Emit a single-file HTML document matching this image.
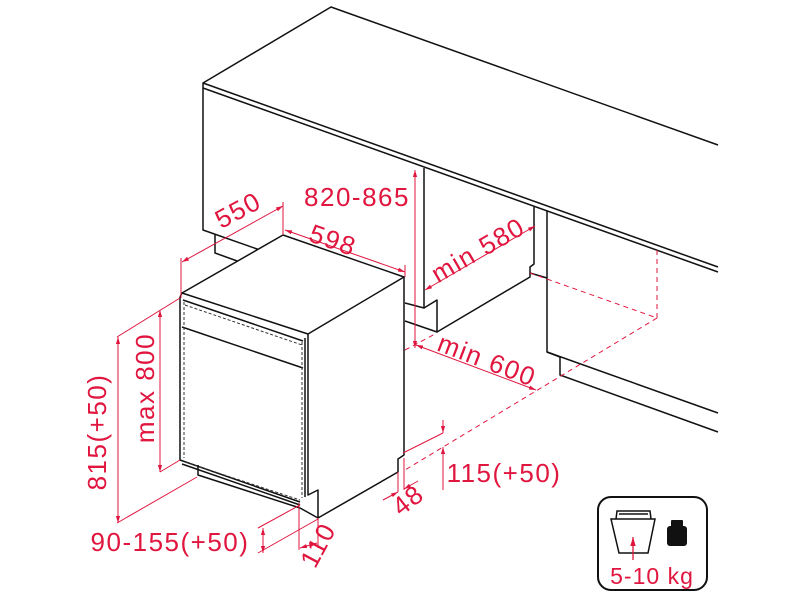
<!DOCTYPE html>
<html><head><meta charset="utf-8"><style>
html,body{margin:0;padding:0;background:#fff;}
svg{display:block}
text{font-family:"Liberation Sans",sans-serif;fill:#e0163f;}
</style></head><body>
<svg width="800" height="600" viewBox="0 0 800 600" xmlns="http://www.w3.org/2000/svg">
<defs>
<marker id="a" viewBox="0 0 10 10" refX="10" refY="5" markerWidth="7" markerHeight="7" orient="auto-start-reverse"><path d="M0,2 L10,5 L0,8 z" fill="#e0163f"/></marker>
</defs>
<g fill="none" stroke="#111" stroke-width="1.5" stroke-linejoin="round">
<polyline points="718,145 331,7 203,83 203,230 260,250"/>
<line x1="203" y1="83" x2="718" y2="267"/>
<line x1="203" y1="88" x2="718" y2="272"/>
<polyline points="215,234 215,253 240,262"/>
<polyline points="424,168 424,308 405,303"/>
<polyline points="424,308 437,300 437,332 405,321"/>
<polyline points="437,332 530,277 530,267 534,264 534,207"/>
<line x1="530" y1="273" x2="547" y2="278"/>
<polyline points="547,211 547,352 718,413"/>
<polyline points="547,352 560,357 560,375 718,432"/>
<polygon points="182,293 283,235 404,277 308,334" fill="#fff"/>
<polyline points="404,277 404,455 398,459 398,472 318,518 318,490 308,495 308,334"/>
<line x1="182" y1="293" x2="180" y2="297"/>
<polyline points="180,297 180,460 300,502"/>
<line x1="183" y1="300" x2="303" y2="341"/>
<line x1="182" y1="327" x2="303" y2="368"/>
<line x1="305" y1="338" x2="305" y2="497"/>
<polyline points="198,465 198,475 300,508 318,518"/>
<line x1="182" y1="464" x2="300" y2="505"/>
</g>
<g fill="none" stroke="#333" stroke-width="1" stroke-dasharray="3,2">
<line x1="184" y1="302" x2="184" y2="458"/>
<line x1="302" y1="342" x2="302" y2="498"/>
<line x1="185" y1="305" x2="302" y2="345"/>
<line x1="185" y1="462" x2="300" y2="500"/>
</g>
<g fill="none" stroke="#e0163f" stroke-width="1">
<g stroke-dasharray="5,4">
<line x1="530" y1="273" x2="657" y2="318"/>
<line x1="657" y1="250" x2="657" y2="318"/>
<line x1="657" y1="318" x2="405" y2="470"/>
<line x1="405" y1="350" x2="437" y2="333"/>
</g>
<line x1="181" y1="258" x2="181" y2="298"/>
<line x1="283" y1="202" x2="283" y2="235"/>
<line x1="182" y1="262" x2="283" y2="206" marker-start="url(#a)" marker-end="url(#a)"/>
<line x1="405" y1="265" x2="405" y2="277"/>
<line x1="285" y1="230" x2="405" y2="272" marker-start="url(#a)" marker-end="url(#a)"/>
<line x1="415" y1="170" x2="415" y2="348" marker-start="url(#a)" marker-end="url(#a)"/>
<line x1="425" y1="290" x2="535" y2="226" marker-start="url(#a)" marker-end="url(#a)"/>
<line x1="416" y1="345" x2="536" y2="390" marker-start="url(#a)" marker-end="url(#a)"/>
<line x1="160" y1="310" x2="160" y2="472" marker-start="url(#a)" marker-end="url(#a)"/>
<line x1="160" y1="472" x2="180" y2="460"/>
<line x1="117" y1="337" x2="180" y2="298"/>
<line x1="117" y1="523" x2="197" y2="477"/>
<line x1="118" y1="337" x2="118" y2="523" marker-start="url(#a)" marker-end="url(#a)"/>
<line x1="258" y1="528" x2="300" y2="505"/>
<line x1="258" y1="553" x2="318" y2="519"/>
<line x1="263" y1="528" x2="263" y2="553" marker-start="url(#a)" marker-end="url(#a)"/>
<line x1="299" y1="503" x2="299" y2="550"/>
<line x1="318" y1="518" x2="318" y2="548"/>
<line x1="300" y1="548" x2="317" y2="543" marker-start="url(#a)" marker-end="url(#a)"/>
<line x1="398" y1="472" x2="398" y2="492"/>
<line x1="404" y1="458" x2="404" y2="490"/>
<line x1="383" y1="500" x2="398" y2="492" marker-end="url(#a)"/>
<line x1="418" y1="481" x2="404" y2="489" marker-end="url(#a)"/>
<line x1="403" y1="453" x2="443" y2="433"/>
<line x1="443" y1="420" x2="443" y2="433" marker-end="url(#a)"/>
<line x1="443" y1="490" x2="443" y2="447" marker-end="url(#a)"/>
</g>
<g font-size="26" letter-spacing="1.5">
<text x="238" y="219" text-anchor="middle" transform="rotate(-28 238 210)">550</text>
<text x="333" y="249" text-anchor="middle" transform="rotate(19 333 240)">598</text>
<text x="357" y="206" text-anchor="middle">820-865</text>
<text x="478" y="259" text-anchor="middle" transform="rotate(-30 478 250)">min 580</text>
<text x="487" y="369" text-anchor="middle" transform="rotate(21 487 360)">min 600</text>
<text x="145" y="397" text-anchor="middle" transform="rotate(-90 145 388)">max 800</text>
<text x="97" y="441" text-anchor="middle" transform="rotate(-90 97 432)">815(+50)</text>
<text x="170" y="551" text-anchor="middle">90-155(+50)</text>
<text x="318" y="554" text-anchor="middle" transform="rotate(-62 318 545)">110</text>
<text x="408" y="509" text-anchor="middle" transform="rotate(-38 408 500)">48</text>
<text x="504" y="482" text-anchor="middle">115(+50)</text>
</g>
<rect x="598" y="497" width="109" height="93" rx="13" fill="none" stroke="#111" stroke-width="2"/>
<g fill="none" stroke="#111" stroke-width="1.5">
<polygon points="611,519 655,519 648,553 619,553"/>
<polyline points="616,519 617,511 650,511 651,519"/>
<line x1="619" y1="514" x2="648" y2="514"/>
</g>
<line x1="633" y1="560" x2="633" y2="537" stroke="#e0163f" stroke-width="1.3" marker-end="url(#a)"/>
<rect x="671" y="520" width="12" height="7" rx="1" fill="#111"/>
<rect x="667" y="526" width="20" height="20" rx="3" fill="#111"/>
<text x="652" y="584" text-anchor="middle" font-size="23" letter-spacing="1">5-10 kg</text>
</svg>
</body></html>
